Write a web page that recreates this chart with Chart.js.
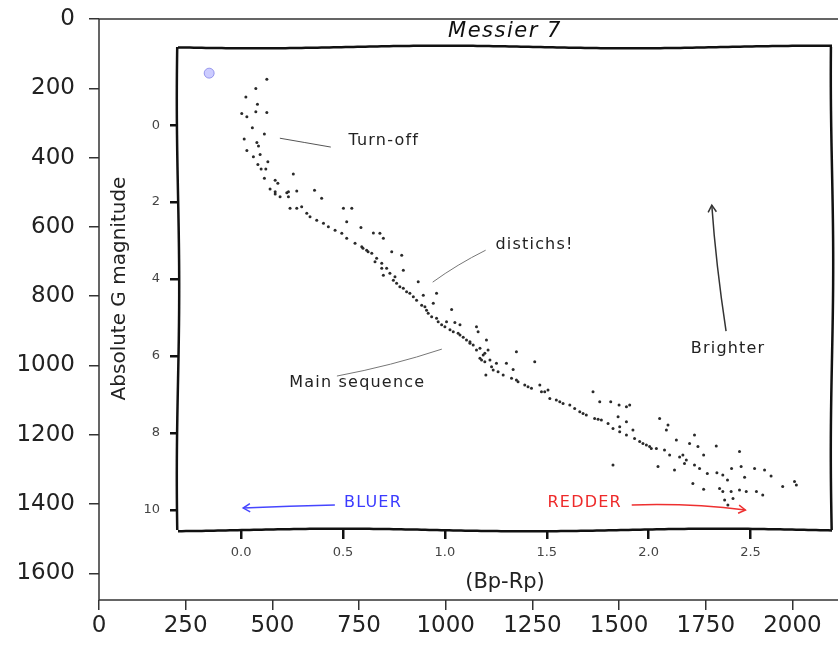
<!DOCTYPE html>
<html>
<head>
<meta charset="utf-8">
<title>Messier 7</title>
<script src="https://cdn.jsdelivr.net/npm/chart.js@4.4.1/dist/chart.umd.min.js"></script>
<style>
  html, body { margin: 0; padding: 0; background: #fff; overflow: hidden; }
  #wrap { position: relative; width: 838px; height: 646px; overflow: hidden; }
  canvas { position: absolute; left: 0; top: 0; }
</style>
</head>
<body>
<div id="wrap">
  <canvas id="outer" width="860" height="646"></canvas>
  <canvas id="inner" width="838" height="646"></canvas>
</div>
<script>
// outer (image pixel) axes
const outerXTicks = [0, 250, 500, 750, 1000, 1250, 1500, 1750, 2000];
const outerYTicks = [0, 200, 400, 600, 800, 1000, 1200, 1400, 1600];

// inner chart ticks
const colorTicks = [0, 0.5, 1.0, 1.5, 2.0, 2.5];
const magTicks = [0, 2, 4, 6, 8, 10];

// cluster stars: colour index (Bp-Rp) and absolute G magnitude
const bpRp = [
  0.126, 0.072, 0.023, 0.080, 0.003, 0.028, 0.072, 0.126, 0.055, 0.114,
  0.015, 0.077, 0.085, 0.028, 0.093, 0.060, 0.131, 0.082, 0.098, 0.121,
  0.256, 0.114, 0.167, 0.180, 0.142, 0.167, 0.232, 0.273, 0.360,
  0.167, 0.191, 0.224, 0.232, 0.395, 0.240, 0.273, 0.297, 0.322, 0.338,
  0.371, 0.404, 0.428, 0.461, 0.502, 0.543, 0.518, 0.494, 0.518, 0.588,
  0.559, 0.592, 0.616, 0.641, 0.649, 0.681, 0.698, 0.665, 0.690, 0.714,
  0.739, 0.788, 0.730, 0.755, 0.796,
  0.747, 0.779, 0.812, 0.845, 0.869, 0.886, 0.910, 0.894, 0.959, 0.943,
  0.935, 0.967, 1.000, 1.033, 1.008, 1.049, 1.074, 1.041, 1.074, 1.106,
  1.123, 1.155, 1.163, 1.204, 1.155, 1.188, 1.212, 1.221, 1.253, 1.351,
  0.657, 0.698, 0.763, 0.828, 0.861, 0.918, 0.984, 1.025, 1.090, 1.139, 1.172,
  1.201, 1.172, 1.196, 1.229, 1.261, 1.286, 1.302, 1.335, 1.327, 1.359,
  1.392, 1.441, 1.425, 1.466, 1.474, 1.506, 1.515, 1.547, 1.580, 1.613,
  1.637, 1.662, 1.694, 1.727, 1.760, 1.735, 1.768, 1.801, 1.814, 1.855,
  1.891, 1.850, 1.891, 1.858,
  1.907, 1.825, 1.858, 1.891, 1.923, 1.931, 1.972, 2.005, 2.054, 2.095,
  2.087, 2.038, 2.078, 2.103, 2.136, 2.152, 2.185, 2.201, 2.225, 2.242,
  2.270, 2.225, 2.250, 1.825, 2.046, 2.127,
  2.168, 2.176, 2.288, 2.446, 2.407, 2.454, 2.520, 2.569, 2.601, 2.335,
  2.364, 2.471, 2.217, 2.270, 2.348, 2.387, 2.364, 2.405, 2.446, 2.479,
  2.529, 2.560, 2.373, 2.414, 2.389, 2.658, 2.716, 2.725, 2.332,
  1.180, 1.237, 1.351, 1.408, 1.490, 1.564, 1.678, 1.752, 0.598, 0.623,
  0.690, 0.796, 0.902, 0.959, 1.065, 1.123, 1.196, 1.956, 1.989, 2.013
];
const gMag = [
  -1.19, -0.95, -0.73, -0.54, -0.30, -0.22, -0.35, -0.33, 0.07, 0.23,
  0.36, 0.45, 0.54, 0.66, 0.76, 0.82, 0.95, 1.02, 1.14, 1.14,
  1.27, 1.38, 1.43, 1.51, 1.66, 1.73, 1.73, 1.71, 1.69,
  1.79, 1.86, 1.76, 1.86, 1.90, 2.16, 2.16, 2.12, 2.29, 2.38,
  2.47, 2.55, 2.64, 2.73, 2.16, 2.16, 2.51, 2.81, 2.94, 2.66,
  3.07, 3.16, 3.25, 3.33, 2.80, 2.81, 2.94, 3.46, 3.59, 3.72,
  3.29, 3.38, 3.85, 3.94, 3.77,
  4.03, 4.20, 4.33, 4.46, 4.07, 4.68, 4.81, 4.42, 4.37, 4.63,
  4.98, 5.11, 5.24, 4.79, 5.11, 5.13, 5.19, 5.37, 5.45, 5.58,
  5.67, 5.24, 5.37, 5.58, 5.84, 5.97, 5.84, 6.10, 6.19, 5.89,
  3.55, 3.90, 4.11, 4.37, 4.55, 4.89, 5.19, 5.32, 5.51, 5.71, 5.80,
  6.49, 6.06, 6.15, 6.28, 6.41, 6.49, 6.19, 6.35, 6.58, 6.67,
  6.75, 6.15, 6.84, 6.75, 6.93, 6.88, 7.10, 7.14, 7.23, 7.27,
  7.36, 7.45, 7.53, 6.93, 7.19, 7.62, 7.66, 7.75, 7.19, 7.27,
  7.32, 7.58, 7.71, 7.84,
  7.27, 7.88, 7.97, 8.05, 7.92, 8.14, 8.27, 8.35, 7.62, 7.79,
  7.92, 8.40, 8.44, 8.57, 8.18, 8.62, 8.70, 8.27, 8.05, 8.35,
  8.57, 8.83, 8.92, 8.83, 8.87, 8.96,
  8.57, 8.79, 9.05, 8.48, 8.92, 8.87, 8.92, 8.96, 9.12, 9.03,
  9.09, 9.15, 9.31, 9.46, 9.44, 9.22, 9.52, 9.52, 9.48, 9.52,
  9.52, 9.61, 9.74, 9.70, 9.87, 9.39, 9.26, 9.35, 8.34,
  6.10, 6.36, 6.62, 6.80, 6.93, 7.19, 7.49, 7.64, 3.20, 3.29,
  3.72, 4.24, 4.72, 5.02, 5.41, 5.63, 5.93, 8.22, 8.31, 8.40
];

// highlighted star (blue marker)
const markerBp = [-0.157];
const markerG = [-1.35];

const stars = bpRp.map((x, i) => ({ x: x, y: gMag[i] }));
const marker = markerBp.map((x, i) => ({ x: x, y: markerG[i] }));

const handFont = "'DejaVu Sans', sans-serif";

// ---------- outer axes ----------
const outerFrame = {
  id: 'outerFrame',
  afterDraw(chart) {
    const a = chart.chartArea, ctx = chart.ctx;
    ctx.save();
    ctx.strokeStyle = '#333';
    ctx.lineWidth = 1.5;
    ctx.strokeRect(a.left, a.top, a.right - a.left, a.bottom - a.top);
    ctx.restore();
  }
};

new Chart(document.getElementById('outer'), {
  type: 'scatter',
  data: { datasets: [{ data: [] }] },
  options: {
    responsive: false,
    animation: false,
    layout: { padding: { left: 0, top: 19, right: 19, bottom: 0 } },
    plugins: { legend: { display: false }, tooltip: { enabled: false } },
    scales: {
      x: {
        type: 'linear', min: 0, max: 2140,
        afterBuildTicks: s => { s.ticks = outerXTicks.map(v => ({ value: v })); },
        afterFit: s => { s.height = 46; },
        ticks: { autoSkip: false, maxRotation: 0, padding: 2, color: '#222',
                 font: { family: 'DejaVu Sans', size: 23 }, callback: v => String(v) },
        grid: { drawOnChartArea: false, tickLength: 10, lineWidth: 1.5, color: '#333' },
        border: { display: false }
      },
      y: {
        type: 'linear', min: 0, max: 1677, reverse: true,
        afterBuildTicks: s => { s.ticks = outerYTicks.map(v => ({ value: v })); },
        afterFit: s => { s.width = 99; s.paddingTop = 0; s.paddingBottom = 0; },
        ticks: { autoSkip: false, padding: 14, color: '#222',
                 font: { family: 'DejaVu Sans', size: 23 }, callback: v => String(v) },
        grid: { drawOnChartArea: false, tickLength: 10, lineWidth: 1.5, color: '#333' },
        border: { display: false }
      }
    }
  },
  plugins: [outerFrame]
});

// ---------- inner xkcd-style chart ----------
function wobbleLine(ctx, x0, y0, x1, y1, amp, phase) {
  const len = Math.hypot(x1 - x0, y1 - y0);
  const n = Math.ceil(len / 4);
  const nx = -(y1 - y0) / len, ny = (x1 - x0) / len;
  for (let i = 0; i <= n; i++) {
    const t = i / n;
    const w = amp * Math.sin(t * len / 60 + phase);
    const px = x0 + (x1 - x0) * t + nx * w;
    const py = y0 + (y1 - y0) * t + ny * w;
    if (i === 0) ctx.moveTo(px, py); else ctx.lineTo(px, py);
  }
}

function arrowHead(ctx, x, y, angle, size) {
  ctx.beginPath();
  ctx.moveTo(x + size * Math.cos(angle + 2.6), y + size * Math.sin(angle + 2.6));
  ctx.lineTo(x, y);
  ctx.lineTo(x + size * Math.cos(angle - 2.6), y + size * Math.sin(angle - 2.6));
  ctx.stroke();
}

// text annotations (label, position in data units)
const notes = [
  { text: 'Turn-off', x: 0.70, y: 0.42, color: '#222' },
  { text: 'distichs!', x: 1.44, y: 3.12, color: '#222' },
  { text: 'Main sequence', x: 0.57, y: 6.70, color: '#222' },
  { text: 'Brighter', x: 2.39, y: 5.82, color: '#222' },
  { text: 'BLUER', x: 0.647, y: 9.82, color: '#3b3bff' },
  { text: 'REDDER', x: 1.686, y: 9.82, color: '#ee2a2a' }
];
// pointer lines: start, control, end (data units), arrow head at end
const pointers = [
  { p: [0.19, 0.34, 0.31, 0.45, 0.44, 0.57], color: '#555', width: 1, head: false },
  { p: [0.94, 4.08, 1.06, 3.62, 1.20, 3.25], color: '#777', width: 1, head: false },
  { p: [0.47, 6.52, 0.74, 6.25, 0.985, 5.82], color: '#777', width: 1, head: false },
  { p: [2.38, 5.35, 2.33, 3.6, 2.31, 2.08], color: '#333', width: 1.5, head: true },
  { p: [0.46, 9.87, 0.24, 9.90, 0.01, 9.95], color: '#4646ff', width: 1.5, head: true },
  { p: [1.917, 9.87, 2.20, 9.82, 2.475, 10.0], color: '#ee3030', width: 1.5, head: true }
];

const xkcdDecor = {
  id: 'xkcdDecor',
  beforeDatasetsDraw(chart) {
    const a = chart.chartArea, ctx = chart.ctx;
    ctx.save();
    ctx.strokeStyle = '#111';
    ctx.lineWidth = 2.5;
    ctx.lineJoin = 'round';
    ctx.beginPath();
    wobbleLine(ctx, a.left, a.top, a.right, a.top, 1.3, 0.3);
    ctx.stroke();
    ctx.beginPath();
    wobbleLine(ctx, a.right, a.top, a.right, a.bottom, 1.2, 1.1);
    ctx.stroke();
    ctx.beginPath();
    wobbleLine(ctx, a.left, a.bottom, a.right, a.bottom, 1.3, 2.0);
    ctx.stroke();
    ctx.beginPath();
    wobbleLine(ctx, a.left, a.top, a.left, a.bottom, 1.2, 0.7);
    ctx.stroke();

    // title
    ctx.fillStyle = '#111';
    ctx.font = 'italic 21px ' + handFont;
    ctx.letterSpacing = '1.5px';
    ctx.textAlign = 'center';
    ctx.textBaseline = 'middle';
    ctx.fillText('Messier 7', (a.left + a.right) / 2, 32);
    ctx.restore();
  },
  afterDatasetsDraw(chart) {
    const xs = chart.scales.x, ys = chart.scales.y, ctx = chart.ctx;
    ctx.save();
    pointers.forEach(pt => {
      const x0 = xs.getPixelForValue(pt.p[0]), y0 = ys.getPixelForValue(pt.p[1]);
      const cx = xs.getPixelForValue(pt.p[2]), cy = ys.getPixelForValue(pt.p[3]);
      const x1 = xs.getPixelForValue(pt.p[4]), y1 = ys.getPixelForValue(pt.p[5]);
      ctx.strokeStyle = pt.color;
      ctx.lineWidth = pt.width;
      ctx.beginPath();
      ctx.moveTo(x0, y0);
      ctx.quadraticCurveTo(cx, cy, x1, y1);
      ctx.stroke();
      if (pt.head) arrowHead(ctx, x1, y1, Math.atan2(y1 - cy, x1 - cx), 8);
    });
    ctx.letterSpacing = '1.2px';
    notes.forEach(n => {
      ctx.fillStyle = n.color;
      ctx.font = '16px ' + handFont;
      ctx.textAlign = 'center';
      ctx.textBaseline = 'middle';
      ctx.fillText(n.text, xs.getPixelForValue(n.x), ys.getPixelForValue(n.y));
    });
    ctx.restore();
  }
};

new Chart(document.getElementById('inner'), {
  type: 'scatter',
  data: {
    datasets: [
      { data: stars, pointRadius: 1.5, pointBackgroundColor: '#2a2a2a', pointBorderWidth: 0 },
      { data: marker, pointRadius: 5, pointBackgroundColor: 'rgba(110,110,255,0.35)',
        pointBorderColor: 'rgba(80,80,220,0.5)', pointBorderWidth: 1 }
    ]
  },
  options: {
    responsive: false,
    animation: false,
    layout: { padding: { left: 105, top: 47, right: 5, bottom: 48 } },
    plugins: { legend: { display: false }, tooltip: { enabled: false } },
    scales: {
      x: {
        type: 'linear', min: -0.31, max: 2.90,
        afterBuildTicks: s => { s.ticks = colorTicks.map(v => ({ value: v })); },
        afterFit: s => { s.height = 68; },
        ticks: { autoSkip: false, maxRotation: 0, padding: 6, color: '#444',
                 font: { family: handFont, size: 13 }, callback: v => v.toFixed(1) },
        grid: { drawOnChartArea: false, tickLength: 9, lineWidth: 2.5, color: '#111' },
        border: { display: false },
        title: { display: true, text: '(Bp-Rp)', color: '#222',
                 font: { family: handFont, size: 21 }, padding: { top: 4, bottom: 3 } }
      },
      y: {
        type: 'linear', min: -2.03, max: 10.52, reverse: true,
        afterBuildTicks: s => { s.ticks = magTicks.map(v => ({ value: v })); },
        afterFit: s => { s.width = 73; },
        ticks: { autoSkip: false, padding: 10, color: '#444',
                 font: { family: handFont, size: 13 } },
        grid: { drawOnChartArea: false, tickLength: 8, lineWidth: 2.5, color: '#111' },
        border: { display: false },
        title: { display: true, text: 'Absolute G magnitude', color: '#222',
                 font: { family: handFont, size: 20 }, padding: { top: 3, bottom: 4 } }
      }
    }
  },
  plugins: [xkcdDecor]
});
</script>
</body>
</html>
